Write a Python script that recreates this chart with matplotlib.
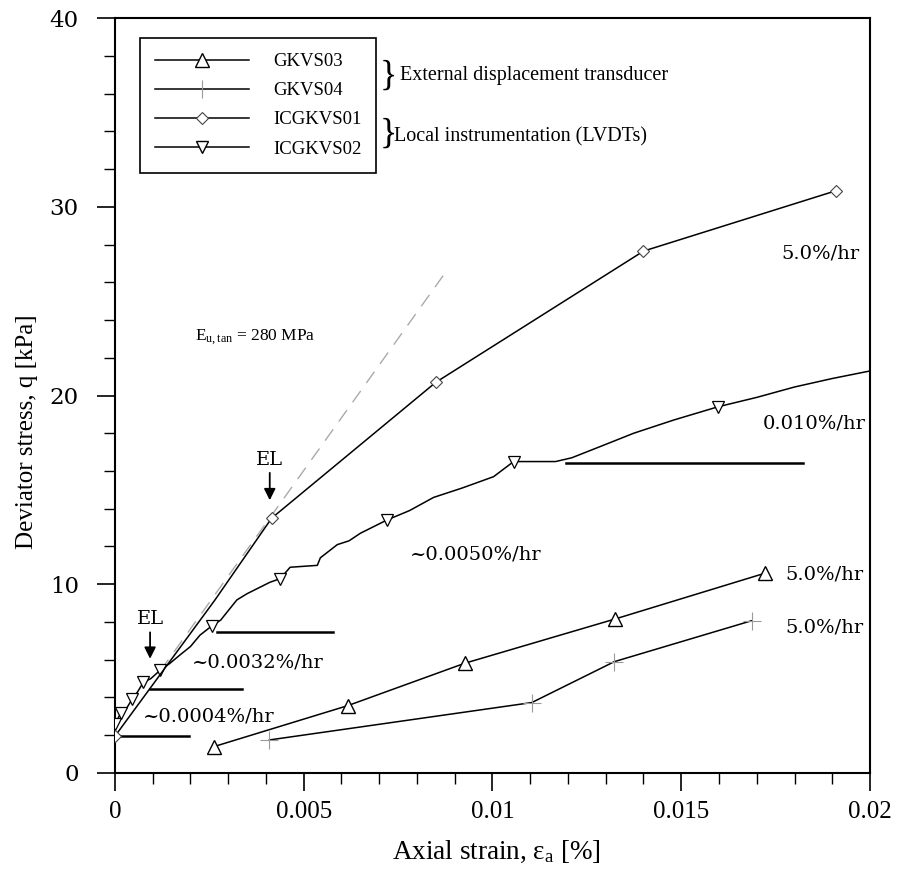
import matplotlib
matplotlib.use("Agg")
import matplotlib.pyplot as plt
from matplotlib.lines import Line2D

plt.rcParams['font.family'] = ['DejaVu Serif']
plt.rcParams['mathtext.fontset'] = 'custom'
plt.rcParams['mathtext.rm'] = 'Liberation Serif'
plt.rcParams['mathtext.it'] = 'Liberation Serif:italic'
plt.rcParams['mathtext.bf'] = 'Liberation Serif:bold'

NARROW = ['Liberation Serif', 'DejaVu Serif']

# ---------------- data ----------------
gkvs03_x = [0.00261, 0.00617, 0.00926, 0.01325, 0.01721]
gkvs03_y = [1.39, 3.57, 5.81, 8.16, 10.58]

gkvs04_x = [0.00409, 0.01104, 0.01323, 0.01687]
gkvs04_y = [1.75, 3.73, 5.90, 8.07]

icg01_x = [0.0, 0.00265, 0.00415, 0.0085, 0.0140, 0.0191]
icg01_y = [1.95, 9.17, 13.5, 20.7, 27.65, 30.85]
icg01_marks = [0, 2, 3, 4, 5]

icg02_x = [0.0, 0.00016, 0.00030, 0.00045, 0.00060, 0.00075, 0.00095, 0.0012,
           0.00145, 0.00172, 0.00200, 0.00225, 0.00257, 0.00280, 0.00300,
           0.00323, 0.00350, 0.00380, 0.00410, 0.00438, 0.00464, 0.00500,
           0.00536, 0.00544, 0.00589, 0.0062, 0.0065, 0.0072, 0.0078,
           0.00844, 0.0092, 0.01003, 0.01056, 0.01167, 0.0121, 0.01286,
           0.01374, 0.0148, 0.01597, 0.0170, 0.0180, 0.0190, 0.0200]
icg02_y = [2.6, 3.2, 3.4, 3.9, 4.3, 4.8, 5.0, 5.45,
           5.8, 6.25, 6.7, 7.3, 7.8, 8.1, 8.6,
           9.17, 9.5, 9.8, 10.1, 10.3, 10.9, 10.95,
           11.0, 11.4, 12.1, 12.3, 12.7, 13.4, 13.9,
           14.6, 15.1, 15.7, 16.5, 16.5, 16.7, 17.3,
           18.0, 18.7, 19.4, 19.9, 20.45, 20.9, 21.3]
icg02_marks = [0, 1, 3, 5, 7, 12, 19, 27, 32, 38]

tangent_x = [0.0012, 0.0088]
tangent_y = [5.4, 26.65]

creep_lines = [  # (x_start, x_end, y)
    (0.0, 0.00197, 1.96),
    (0.00093, 0.00337, 4.45),
    (0.0027, 0.00578, 7.47),
    (0.01196, 0.01822, 16.42),
]

rate_labels = [  # (x, y, text)
    (0.00075, 3.0, '~0.0004%/hr'),
    (0.00204, 5.83, '~0.0032%/hr'),
    (0.00782, 11.55, '~0.0050%/hr'),
    (0.01716, 18.5, '0.010%/hr'),
    (0.01764, 27.5, '5.0%/hr'),
    (0.01775, 10.5, '5.0%/hr'),
    (0.01775, 7.7, '5.0%/hr'),
]

el_marks = [  # (x, text_y, arrow_start_y, arrow_tip_y)
    (0.00093, 8.15, 7.45, 6.05),
    (0.00410, 16.6, 15.9, 14.45),
]

# ---------------- figure ----------------
fig = plt.figure(figsize=(9.01, 8.75), dpi=100)
ax = fig.add_axes([0.1276, 0.1166, 0.8380, 0.8628])

ax.plot(icg02_x, icg02_y, color='black', lw=1.1, marker='v', ms=8,
        mfc='white', mec='black', mew=0.9, markevery=icg02_marks, zorder=3)
ax.plot(icg01_x, icg01_y, color='black', lw=1.1, marker='D', ms=6,
        mfc='white', mec='#444444', mew=0.8, markevery=icg01_marks, zorder=3)
ax.plot(gkvs03_x, gkvs03_y, color='black', lw=1.1, marker='^', ms=10,
        mfc='white', mec='black', mew=1.0, zorder=3)
ax.plot(gkvs04_x, gkvs04_y, color='black', lw=1.1, marker='+', ms=13,
        mec='#999999', mew=0.8, zorder=3)
ax.plot(tangent_x, tangent_y, color='#aaaaaa', lw=1.0, dashes=(10, 7), zorder=2)

for x0, x1, y in creep_lines:
    ax.plot([x0, x1], [y, y], color='black', lw=1.8, zorder=2)

for x, y, t in rate_labels:
    ax.text(x, y, t, fontsize=14, ha='left', va='center')

for x, ty, ys, yt in el_marks:
    ax.text(x, ty, 'EL', fontsize=14, ha='center', va='center')
    ax.annotate('', xy=(x, yt), xytext=(x, ys),
                arrowprops=dict(arrowstyle='-|>', color='black', lw=1.3,
                                mutation_scale=17, shrinkA=0, shrinkB=0))

ax.text(0.00212, 23.1, r'E$_{\mathrm{u,tan}}$ = 280 MPa', fontsize=12.5,
        ha='left', va='center', family=NARROW)

ax.set_xlim(0, 0.02)
ax.set_ylim(0, 40)
ax.set_xticks([0, 0.005, 0.01, 0.015, 0.02])
ax.set_xticklabels(['0', '0.005', '0.01', '0.015', '0.02'])
ax.set_xticks([i * 0.001 for i in range(21)], minor=True)
ax.set_yticks([0, 10, 20, 30, 40])
ax.set_yticks(list(range(0, 41, 2)), minor=True)
ax.tick_params(which='major', direction='out', length=13, width=1.2)
ax.tick_params(which='minor', direction='out', length=8, width=1.0)
ax.tick_params(axis='y', which='major', pad=13, labelsize=16.5)
ax.tick_params(axis='x', which='major', pad=7, labelsize=18)
for lab in ax.get_xticklabels():
    lab.set_family(NARROW)
for s in ax.spines.values():
    s.set_linewidth(1.5)

ax.set_xlabel(r'Axial strain, ε$_{\mathrm{a}}$ [%]', fontsize=19.5,
              family=NARROW)
ax.set_ylabel('Deviator stress, q [kPa]', fontsize=18, family=NARROW)
ax.xaxis.set_label_coords(0.505, -0.087)
ax.yaxis.set_label_coords(-0.102, 0.452)

handles = [
    Line2D([], [], color='black', lw=1.1, marker='^', ms=10, mfc='white',
           mec='black'),
    Line2D([], [], color='black', lw=1.1, marker='|', ms=13, mec='#999999',
           mew=0.8),
    Line2D([], [], color='black', lw=1.1, marker='D', ms=6, mfc='white',
           mec='#444444', mew=0.8),
    Line2D([], [], color='black', lw=1.1, marker='v', ms=8, mfc='white',
           mec='black'),
]
leg = ax.legend(handles, ['GKVS03', 'GKVS04', 'ICGKVS01', 'ICGKVS02'],
                loc='upper left', bbox_to_anchor=(0.033, 0.9735),
                borderaxespad=0, handlelength=5.0,
                handletextpad=1.3, labelspacing=0.64, borderpad=0.8,
                fancybox=False, framealpha=1, edgecolor='black',
                prop={'family': NARROW, 'size': 13.5})
leg.get_frame().set_linewidth(1.2)
leg.set_zorder(5)

ax.text(0.3616, 0.923, '}', transform=ax.transAxes, fontsize=26,
        ha='center', va='center', family=NARROW, zorder=7)
ax.text(0.377, 0.9245, 'External displacement transducer',
        transform=ax.transAxes, fontsize=14.5, ha='left', va='center',
        family=NARROW, zorder=7)
ax.text(0.3616, 0.846, '}', transform=ax.transAxes, fontsize=26,
        ha='center', va='center', family=NARROW, zorder=7)
ax.text(0.3695, 0.842, 'Local instrumentation (LVDTs)',
        transform=ax.transAxes, fontsize=14.5, ha='left', va='center',
        family=NARROW, zorder=7)

fig.savefig('out.png', dpi=100)
